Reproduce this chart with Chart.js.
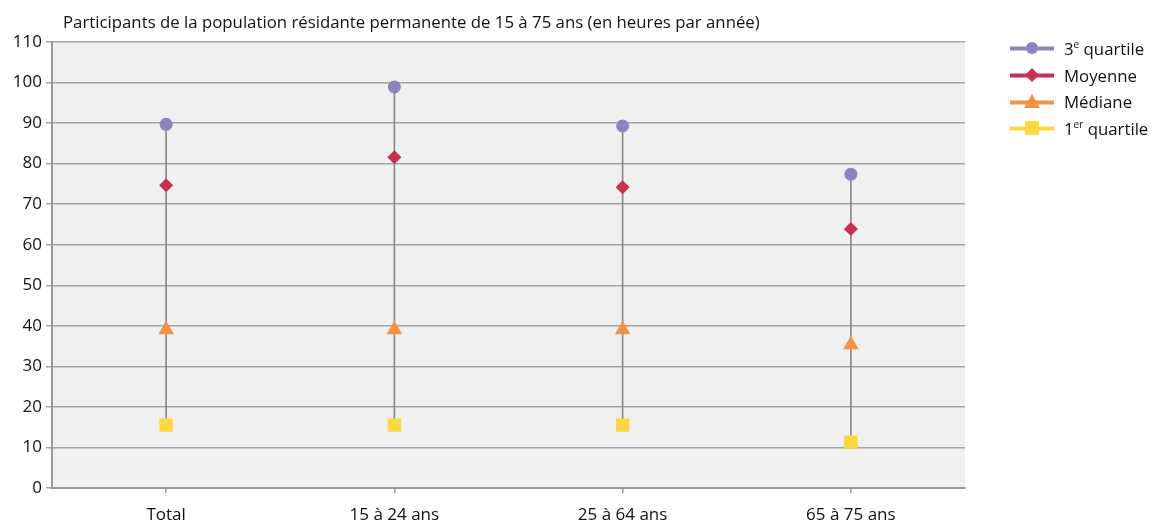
<!DOCTYPE html>
<html><head><meta charset="utf-8">
<script src="https://cdn.jsdelivr.net/npm/chart.js@4.4.1/dist/chart.umd.min.js"></script>
<style>
html,body{margin:0;padding:0;background:#fff;}
#wrap{position:relative;width:1153px;height:520px;font-family:"Open Sans","Noto Sans",sans-serif;color:#111;}
#title{position:absolute;left:63px;top:10px;font-size:16.8px;white-space:nowrap;}
#legend{position:absolute;left:1010px;top:35px;font-size:16.8px;}
.li{display:flex;align-items:center;height:26.7px;}
.li svg{margin-right:10px;}
sup{font-size:10px;vertical-align:7px;line-height:0;}
</style></head>
<body>
<div id="wrap">
<canvas id="c" width="1153" height="520"></canvas>
<div id="title">Participants de la population résidante permanente de 15 à 75 ans (en heures par année)</div>
<div id="legend"></div>
</div>
<script>
const categories = ["Total", "15 à 24 ans", "25 à 64 ans", "65 à 75 ans"];
const quartile3 = [89.7, 98.9, 89.3, 77.4];
const moyenne   = [74.7, 81.6, 74.2, 63.9];
const mediane   = [39.0, 39.0, 39.0, 35.3];
const quartile1 = [15.5, 15.5, 15.5, 11.3];
const yTicks = [0,10,20,30,40,50,60,70,80,90,100,110];

const colors = {q3:"#8d84bf", moy:"#c8304c", med:"#f39145", q1:"#fdd83d"};

const bgPlugin = {
  id:"bg",
  beforeDraw(chart){
    const {ctx, chartArea:a} = chart;
    ctx.save(); ctx.fillStyle="#f0f0f0";
    ctx.fillRect(a.left, a.top, a.right-a.left, a.bottom-a.top);
    ctx.restore();
  }
};

function pts(name, data, color, style, r){
  return {type:"line", label:name, data, showLine:false, pointStyle:style,
    pointRadius:r, pointHoverRadius:r, pointBackgroundColor:color, pointBorderColor:color,
    pointBorderWidth:0, borderColor:color, backgroundColor:color, order:0};
}

new Chart(document.getElementById("c"), {
  data:{
    labels:categories,
    datasets:[
      {type:"bar", label:"range", data:quartile1.map((v,i)=>[v, quartile3[i]]),
       backgroundColor:"#8a8a8a", barThickness:1, order:10},
      pts("q3", quartile3, colors.q3, "circle", 6.5),
      pts("moy", moyenne, colors.moy, "rectRot", 7),
      pts("med", mediane, colors.med, "triangle", 9),
      pts("q1", quartile1, colors.q1, "rect", 9.5)
    ]
  },
  options:{
    responsive:false, animation:false,
    layout:{padding:{left:0, right:188, top:42, bottom:0}},
    plugins:{legend:{display:false}, tooltip:{enabled:false}, title:{display:false}},
    scales:{
      x:{
        offset:true,
        grid:{offset:false, drawOnChartArea:false, tickLength:5, color:"#999", lineWidth:1.5},
        border:{color:"#999", width:2},
        ticks:{color:"#111", font:{family:"Open Sans", size:17}, padding:12},
        afterFit(s){ s.height = 32; }
      },
      y:{
        min:0, max:110,
        afterBuildTicks(s){ s.ticks = yTicks.map(v=>({value:v})); },
        grid:{color:"#a3a3a3", lineWidth:1.5, tickLength:6},
        border:{color:"#999", width:2},
        ticks:{color:"#111", font:{family:"Open Sans", size:17}, padding:4},
        afterFit(s){ s.width = 52; }
      }
    }
  },
  plugins:[bgPlugin]
});

// HTML legend
const legendItems = [
  {html:"3<sup>e</sup> quartile", c:colors.q3, m:'<circle cx="22" cy="8" r="6"/>'},
  {html:"Moyenne", c:colors.moy, m:'<polygon points="22,1 29,8 22,15 15,8"/>'},
  {html:"Médiane", c:colors.med, m:'<polygon points="22,0 30,14 14,14"/>'},
  {html:"1<sup>er</sup> quartile", c:colors.q1, m:'<rect x="15" y="1" width="14" height="14"/>'}
];
document.getElementById("legend").innerHTML = legendItems.map(it =>
  `<div class="li"><svg width="44" height="16" fill="${it.c}"><rect x="0" y="6.5" width="44" height="4"/>${it.m}</svg><span>${it.html}</span></div>`
).join("");
</script>
</body></html>
